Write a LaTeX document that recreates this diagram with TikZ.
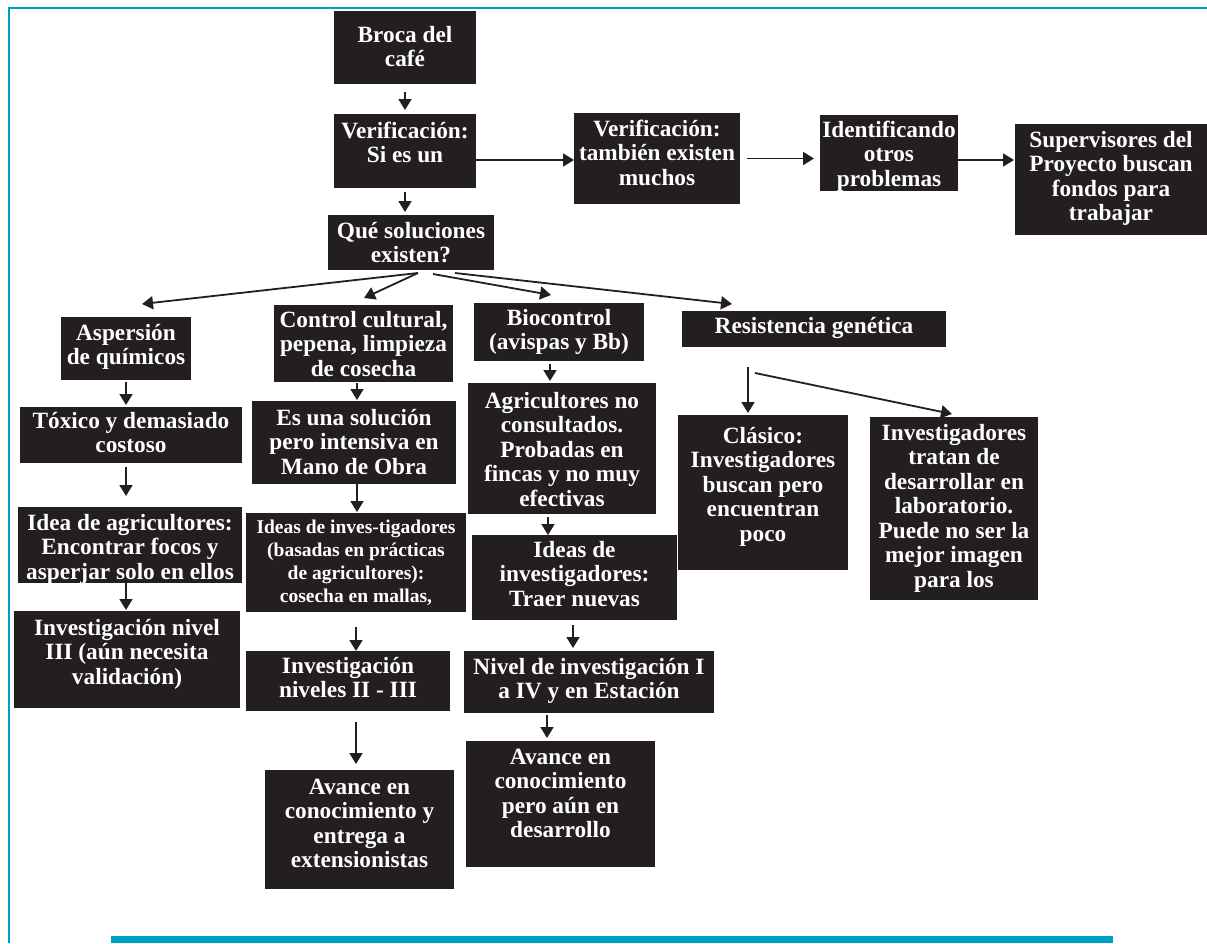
\documentclass[tikz,border=0pt]{standalone}
\usepackage{fontspec}
\setmainfont{Liberation Serif}
\usetikzlibrary{arrows.meta,calc}
\definecolor{boxc}{HTML}{231F1E}
\definecolor{framec}{HTML}{00A0C6}
\newcommand\bxc[3]{\parbox[c][#2pt][t]{#1pt}{\lineskiplimit=-100pt\relax #3}}
\newcommand\bxfirst[2]{\hbox to\linewidth{\hss\rule{0pt}{#1pt}#2\hss}}
\newcommand\bxline[1]{\hbox to\linewidth{\hss#1\hss}}
\tikzset{
  box/.style={fill=boxc, inner sep=0pt, outer sep=0pt, text=white, anchor=north west,
    font=\fontsize{23.3pt}{24.5pt}\selectfont\bfseries},
  arr/.style={draw=boxc, line width=1.8pt, -{Triangle[length=11pt,width=13pt]}},
  frameline/.style={draw=framec, line width=2.2pt}
}
\begin{document}
\begin{tikzpicture}[x=1pt,y=-1pt]
\useasboundingbox (0,0) rectangle (1207,943);
% frame
\draw[frameline] (9,943) -- (9,8) -- (1207,8);
\fill[framec] (111,936) rectangle (1113,943);

% boxes
\node[box] (broca) at (334,11) {\bxc{142}{73}{\bxfirst{31}{Broca del}\bxline{café}}};
\node[box] (verif) at (334,114) {\bxc{142}{74}{\bxfirst{24}{Verificación:}\bxline{Si es un}}};
\node[box] (que) at (328,215) {\bxc{166}{55}{\bxfirst{23}{Qué soluciones}\bxline{existen?}}};
\node[box] (verif2) at (574,113) {\bxc{166}{91}{\bxfirst{23}{Verificación:}\bxline{también existen}\bxline{muchos}}};
\node[box] (ident) at (820,115) {\bxc{138}{76}{\bxfirst{22}{Identificando}\bxline{otros}\bxline{problemas}}};
\node[box] (sup) at (1015,124) {\bxc{192}{111}{\bxfirst{23}{Supervisores del}\bxline{Proyecto buscan}\bxline{fondos para}\bxline{trabajar}}};
\node[box] (asp) at (61,317) {\bxc{130}{63}{\bxfirst{23}{Aspersión}\bxline{de químicos}}};
\node[box] (cc) at (274,305) {\bxc{179}{77}{\bxfirst{22}{Control cultural,}\bxline{pepena, limpieza}\bxline{de cosecha}}};
\node[box] (bio) at (474,303) {\bxc{170}{58}{\bxfirst{22}{Biocontrol}\bxline{(avispas y Bb)}}};
\node[box] (res) at (682,311) {\bxc{264}{36}{\bxfirst{22}{Resistencia genética}}};
\node[box] (tox) at (20,407) {\bxc{222}{56}{\bxfirst{21}{Tóxico y demasiado}\bxline{costoso}}};
\node[box] (esuna) at (252,401) {\bxc{204}{83}{\bxfirst{24}{Es una solución}\bxline{pero intensiva en}\bxline{Mano de Obra}}};
\node[box] (agric) at (468,383) {\bxc{188}{131}{\bxfirst{25}{Agricultores no}\bxline{consultados.}\bxline{Probadas en}\bxline{fincas y no muy}\bxline{efectivas}}};
\node[box] (clas) at (678,415) {\bxc{170}{155}{\bxfirst{28}{Clásico:}\bxline{Investigadores}\bxline{buscan pero}\bxline{encuentran}\bxline{poco}}};
\node[box] (invtrat) at (870,417) {\bxc{168}{183}{\bxfirst{23}{Investigadores}\bxline{tratan de}\bxline{desarrollar en}\bxline{laboratorio.}\bxline{Puede no ser la}\bxline{mejor imagen}\bxline{para los}}};
\node[box] (idea) at (18,507) {\bxc{224}{76}{\bxfirst{23}{Idea de agricultores:}\bxline{Encontrar focos y}\bxline{asperjar solo en ellos}}};
\node[box] (ideasinv) at (246,513) {\bxc{220}{99}{\fontsize{19.5pt}{23pt}\selectfont\bxfirst{20}{Ideas de inves-tigadores}\bxline{(basadas en prácticas}\bxline{de agricultores):}\bxline{cosecha en mallas,}}};
\node[box] (traer) at (472,535) {\bxc{205}{85}{\bxfirst{22}{Ideas de}\bxline{investigadores:}\bxline{Traer nuevas}}};
\node[box] (inv3) at (14,611) {\bxc{226}{97}{\bxfirst{24}{Investigación nivel}\bxline{III (aún necesita}\bxline{validación)}}};
\node[box] (invII) at (246,651) {\bxc{204}{60}{\bxfirst{22}{Investigación}\bxline{niveles II - III}}};
\node[box] (nivel) at (464,651) {\bxc{250}{62}{\bxfirst{23}{Nivel de investigación I}\bxline{a IV y en Estación}}};
\node[box] (av1) at (265,770) {\bxc{189}{119}{\bxfirst{24}{Avance en}\bxline{conocimiento y}\bxline{entrega a}\bxline{extensionistas}}};
\node[box] (av2) at (466,741) {\bxc{189}{126}{\bxfirst{23}{Avance en}\bxline{conocimiento}\bxline{pero aún en}\bxline{desarrollo}}};

% connectors
\draw[arr, shorten <=8pt, shorten >=4pt] (broca.south) -- (verif.north);
\draw[arr, shorten <=4pt, shorten >=3pt] (verif.south) -- ([xshift=-6pt]que.north);
\draw[arr] ([yshift=-9pt]verif.east) -- ([yshift=-1.5pt]verif2.west);
\draw[arr, shorten <=7pt, shorten >=6pt] (verif2.east) -- ([yshift=-5.5pt]ident.west);
\draw[arr, shorten >=1pt] ([yshift=-7pt]ident.east) -- ([yshift=19.5pt]sup.west);

\draw[arr] ([xshift=7pt,yshift=-3pt]que.south) -- ([xshift=16pt,yshift=13pt]asp.north);
\draw[arr] ([xshift=7pt,yshift=-3pt]que.south) -- ([xshift=0.5pt,yshift=7pt]cc.north);
\draw[arr] ([xshift=22pt,yshift=-4pt]que.south) -- ([xshift=-8pt,yshift=8pt]bio.north);
\draw[arr] ([xshift=44pt,yshift=-3pt]que.south) -- ([xshift=-82pt,yshift=7pt]res.north);

\draw[arr, shorten <=2pt, shorten >=2pt] (asp.south) -- ([xshift=-5pt]tox.north);
\draw[arr, shorten <=4pt, shorten >=11pt] ([xshift=-5pt]tox.south) -- ([xshift=-4pt]idea.north);
\draw[arr, shorten >=1pt] ([xshift=-4pt]idea.south) -- ([xshift=-1pt]inv3.north);

\draw[arr, shorten <=1pt, shorten >=1pt] ([xshift=-6.5pt]cc.south) -- ([xshift=3pt]esuna.north);
\draw[arr, shorten >=1pt] ([xshift=3pt]esuna.south) -- ([xshift=1pt]ideasinv.north);
\draw[arr, shorten <=15pt] (ideasinv.south) -- ([xshift=8pt]invII.north);
\draw[arr, shorten <=11pt, shorten >=6pt] ([xshift=8pt]invII.south) -- ([xshift=-3.5pt]av1.north);

\draw[arr, shorten <=3pt, shorten >=2pt] ([xshift=-9pt]bio.south) -- ([xshift=-12pt]agric.north);
\draw[arr, shorten <=3pt] ([xshift=-14pt]agric.south) -- ([xshift=-26.5pt]traer.north);
\draw[arr, shorten <=5pt, shorten >=3pt] ([xshift=-1.5pt]traer.south) -- ([xshift=-16pt]nivel.north);
\draw[arr, shorten <=2pt, shorten >=3pt] ([xshift=-42pt]nivel.south) -- ([xshift=-13.5pt]av2.north);

\draw[arr, shorten <=20pt, shorten >=2pt] ([xshift=-66pt]res.south) -- ([xshift=-15pt]clas.north);
\draw[arr] ([xshift=-59pt,yshift=-26pt]res.south) -- ([xshift=-2pt,yshift=3pt]invtrat.north);
\end{tikzpicture}
\end{document}
